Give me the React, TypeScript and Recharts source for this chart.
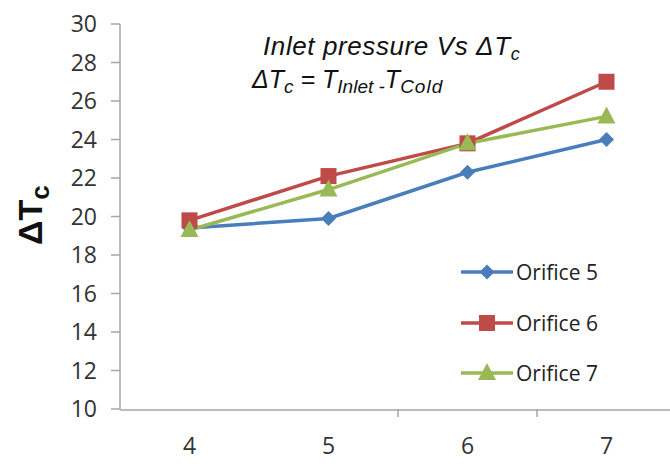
import { LineChart, Line, XAxis, YAxis, Legend } from "recharts";

const pressures = [4, 5, 6, 7];
const orifice5 = [19.4, 19.9, 22.3, 24.0];
const orifice6 = [19.8, 22.1, 23.8, 27.0];
const orifice7 = [19.3, 21.4, 23.8, 25.2];
const yTicks = [10, 12, 14, 16, 18, 20, 22, 24, 26, 28, 30];
const xTicks = [4, 5, 6, 7];
const bandMarks = [5.5, 6.5];

const data = pressures.map((p, i) => ({
    p,
    o5: orifice5[i],
    o6: orifice6[i],
    o7: orifice7[i],
}));

const BLUE = "#4a7ebb";
const RED = "#be4b48";
const GREEN = "#98b954";
const AXIS = "#a6a6a6";
const FONT = "'Open Sans', sans-serif";

type DotProps = { cx?: number; cy?: number; fill?: string; key?: string };

function Diamond({ cx = 0, cy = 0 }: DotProps) {
    const r = 7.5;
    return <polygon points={`${cx},${cy - r} ${cx + r},${cy} ${cx},${cy + r} ${cx - r},${cy}`} fill={BLUE} />;
}

function Square({ cx = 0, cy = 0 }: DotProps) {
    const r = 8;
    return <rect x={cx - r} y={cy - r} width={r * 2} height={r * 2} fill={RED} />;
}

function Triangle({ cx = 0, cy = 0 }: DotProps) {
    return <polygon points={`${cx},${cy - 10} ${cx + 9},${cy + 7} ${cx - 9},${cy + 7}`} fill={GREEN} />;
}

const legendItems = [
    { name: "Orifice 5", color: BLUE, Shape: Diamond },
    { name: "Orifice 6", color: RED, Shape: Square },
    { name: "Orifice 7", color: GREEN, Shape: Triangle },
];

function LegendContent() {
    return (
        <div>
            {legendItems.map(({ name, color, Shape }) => (
                <div key={name} style={{ display: "flex", alignItems: "center", height: 50.5 }}>
                    <svg width={54} height={22}>
                        <line x1={1} y1={11} x2={53} y2={11} stroke={color} strokeWidth={3.5} />
                        <Shape cx={27} cy={11} />
                    </svg>
                    <span style={{ fontFamily: FONT, fontSize: 21, color: "#222", marginLeft: 2 }}>{name}</span>
                </div>
            ))}
        </div>
    );
}

export default function App() {
    return (
        <div style={{ position: "absolute", left: 0, top: 0, width: 670, height: 464, overflow: "hidden", background: "#fff" }}>
            <LineChart width={680} height={464} data={data} margin={{ top: 24, right: 4, bottom: 15, left: 0 }}>
                {/* tick marks between categories, sits right on the plot edge */}
                <XAxis
                    xAxisId="a"
                    dataKey="p"
                    type="number"
                    domain={[3.5, 7.5]}
                    allowDataOverflow
                    ticks={bandMarks}
                    interval={0}
                    tick={() => <g />}
                    axisLine={false}
                    tickLine={{ stroke: AXIS, strokeWidth: 1.5 }}
                    tickSize={8}
                    height={1}
                />
                <XAxis
                    xAxisId="b"
                    dataKey="p"
                    type="number"
                    domain={[3.5, 7.5]}
                    ticks={xTicks}
                    interval={0}
                    tickLine={false}
                    axisLine={{ stroke: AXIS, strokeWidth: 1.5 }}
                    tick={{ fill: "#333", fontSize: 23, fontFamily: FONT }}
                    tickMargin={22}
                    height={39}
                />
                <YAxis
                    domain={[10, 30]}
                    ticks={yTicks}
                    interval={0}
                    width={120}
                    axisLine={{ stroke: AXIS, strokeWidth: 1.5 }}
                    tickLine={{ stroke: AXIS, strokeWidth: 1.5 }}
                    tickSize={9}
                    tickMargin={14}
                    tick={{ fill: "#333", fontSize: 23, fontFamily: FONT }}
                />
                <Legend
                    layout="vertical"
                    align="center"
                    verticalAlign="middle"
                    content={<LegendContent />}
                    wrapperStyle={{ left: 460, top: 247, width: 200 }}
                />
                <Line xAxisId="b" type="linear" dataKey="o5" name="Orifice 5" stroke={BLUE} strokeWidth={3.5} dot={(p: DotProps) => <Diamond key={p.key} cx={p.cx} cy={p.cy} />} isAnimationActive={false} />
                <Line xAxisId="b" type="linear" dataKey="o6" name="Orifice 6" stroke={RED} strokeWidth={3.5} dot={(p: DotProps) => <Square key={p.key} cx={p.cx} cy={p.cy} />} isAnimationActive={false} />
                <Line xAxisId="b" type="linear" dataKey="o7" name="Orifice 7" stroke={GREEN} strokeWidth={3.5} dot={(p: DotProps) => <Triangle key={p.key} cx={p.cx} cy={p.cy} />} isAnimationActive={false} />
            </LineChart>
            <svg width={670} height={464} style={{ position: "absolute", left: 0, top: 0, pointerEvents: "none" }}>
                <text x={42} y={245} transform="rotate(-90 42 245)" fontFamily="'Liberation Sans', Arial, sans-serif" fontWeight="bold" fontSize={34} fill="#111">
                    ΔT<tspan fontSize={26} dy={7}>c</tspan>
                </text>
                <g fontFamily="'Liberation Sans', Arial, sans-serif" fontStyle="italic" fill="#111">
                    <text x={263} y={55} fontSize={26} letterSpacing={0.6}>
                        Inlet pressure Vs ΔT<tspan fontSize={18} dy={5}>c</tspan>
                    </text>
                    <text x={252} y={88} fontSize={25}>
                        ΔT<tspan fontSize={19} dy={5}>c</tspan>
                        <tspan dy={-5}> = T</tspan>
                        <tspan fontSize={19} dy={5}>Inlet -</tspan>
                        <tspan dy={-5}>T</tspan>
                        <tspan fontSize={19} dy={5} letterSpacing={1}>Cold</tspan>
                    </text>
                </g>
            </svg>
        </div>
    );
}
